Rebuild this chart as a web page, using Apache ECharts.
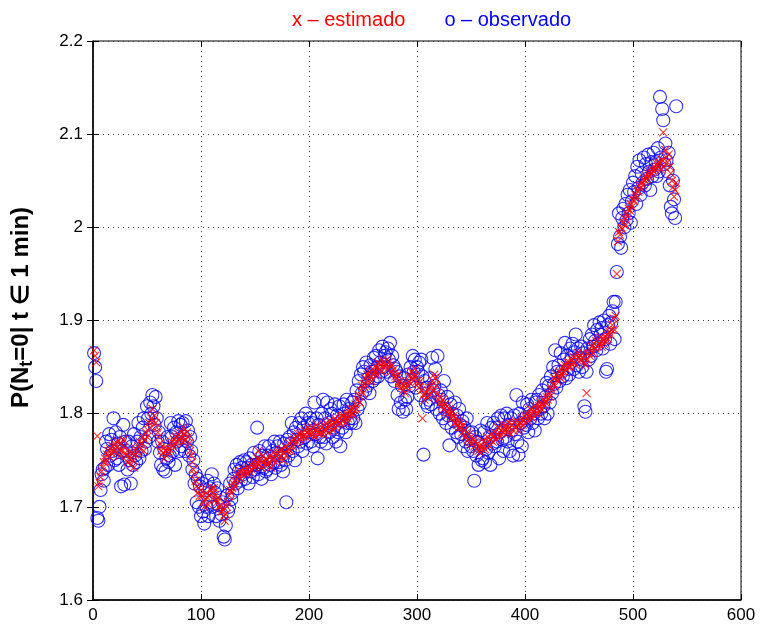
<!DOCTYPE html>
<html>
<head>
<meta charset="utf-8">
<script src="https://cdn.jsdelivr.net/npm/echarts@6/dist/echarts.min.js"></script>
<style>
  html, body { margin: 0; padding: 0; background: #fff; }
  #chart { width: 767px; height: 626px; }
</style>
</head>
<body>
<div id="chart"></div>
<script>
// sample index t = 1..540 (one point per minute)
const estimado = [
  1.868,1.862,1.855,1.776,1.722,1.726,1.732,1.738,1.742,1.748,
  1.752,1.748,1.756,1.760,1.754,1.762,1.758,1.765,1.760,1.768,
  1.765,1.758,1.770,1.762,1.755,1.768,1.760,1.772,1.764,1.758,
  1.755,1.748,1.752,1.760,1.745,1.758,1.750,1.742,1.756,1.762,
  1.758,1.765,1.770,1.762,1.768,1.775,1.760,1.772,1.780,1.775,
  1.782,1.790,1.785,1.795,1.805,1.792,1.798,1.790,1.785,1.780,
  1.775,1.768,1.760,1.765,1.758,1.752,1.760,1.755,1.762,1.758,
  1.762,1.768,1.770,1.765,1.772,1.768,1.775,1.770,1.778,1.772,
  1.775,1.780,1.770,1.785,1.778,1.772,1.780,1.775,1.768,1.760,
  1.755,1.748,1.740,1.735,1.728,1.722,1.715,1.720,1.712,1.718,
  1.712,1.705,1.700,1.708,1.715,1.710,1.702,1.712,1.718,1.720,
  1.715,1.720,1.712,1.708,1.705,1.710,1.700,1.702,1.695,1.698,
  1.690,1.685,1.692,1.700,1.705,1.712,1.718,1.715,1.720,1.725,
  1.728,1.722,1.730,1.735,1.732,1.738,1.730,1.735,1.740,1.736,
  1.738,1.740,1.735,1.742,1.738,1.745,1.740,1.748,1.742,1.745,
  1.748,1.752,1.760,1.745,1.750,1.742,1.755,1.748,1.745,1.752,
  1.750,1.745,1.748,1.755,1.742,1.750,1.758,1.752,1.748,1.755,
  1.758,1.752,1.760,1.755,1.762,1.750,1.758,1.765,1.755,1.760,
  1.762,1.768,1.760,1.770,1.765,1.772,1.768,1.775,1.770,1.778,
  1.772,1.778,1.775,1.780,1.776,1.782,1.775,1.780,1.785,1.778,
  1.782,1.778,1.785,1.780,1.775,1.782,1.788,1.780,1.785,1.778,
  1.780,1.785,1.778,1.788,1.782,1.790,1.785,1.780,1.792,1.786,
  1.788,1.782,1.790,1.795,1.785,1.792,1.788,1.795,1.790,1.798,
  1.792,1.798,1.795,1.790,1.800,1.795,1.802,1.798,1.805,1.800,
  1.805,1.798,1.810,1.805,1.815,1.820,1.812,1.825,1.830,1.822,
  1.832,1.838,1.830,1.842,1.835,1.845,1.840,1.835,1.848,1.842,
  1.845,1.850,1.842,1.855,1.848,1.852,1.845,1.858,1.850,1.855,
  1.852,1.858,1.848,1.855,1.850,1.845,1.852,1.842,1.848,1.840,
  1.838,1.842,1.832,1.835,1.828,1.832,1.825,1.830,1.822,1.828,
  1.830,1.835,1.840,1.832,1.845,1.838,1.842,1.848,1.840,1.835,
  1.832,1.828,1.835,1.825,1.795,1.820,1.815,1.822,1.818,1.825,
  1.828,1.820,1.830,1.835,1.825,1.842,1.838,1.830,1.822,1.815,
  1.818,1.812,1.808,1.815,1.805,1.810,1.802,1.808,1.800,1.805,
  1.800,1.795,1.802,1.798,1.790,1.795,1.788,1.792,1.785,1.790,
  1.785,1.780,1.788,1.782,1.775,1.780,1.772,1.778,1.770,1.775,
  1.768,1.772,1.765,1.770,1.762,1.768,1.760,1.765,1.758,1.762,
  1.765,1.770,1.762,1.768,1.775,1.770,1.765,1.772,1.778,1.770,
  1.775,1.780,1.772,1.778,1.785,1.780,1.775,1.782,1.788,1.780,
  1.782,1.788,1.785,1.780,1.790,1.785,1.778,1.788,1.782,1.790,
  1.785,1.792,1.788,1.782,1.790,1.785,1.795,1.788,1.792,1.798,
  1.795,1.800,1.792,1.798,1.805,1.800,1.795,1.802,1.808,1.800,
  1.805,1.800,1.808,1.812,1.805,1.810,1.815,1.808,1.812,1.818,
  1.815,1.822,1.818,1.828,1.825,1.832,1.838,1.830,1.842,1.835,
  1.840,1.845,1.838,1.842,1.850,1.845,1.852,1.848,1.855,1.850,
  1.855,1.850,1.858,1.862,1.855,1.860,1.852,1.858,1.865,1.860,
  1.862,1.858,1.865,1.860,1.855,1.852,1.822,1.858,1.865,1.862,
  1.868,1.872,1.865,1.875,1.870,1.878,1.872,1.880,1.875,1.882,
  1.872,1.880,1.875,1.882,1.878,1.885,1.880,1.888,1.885,1.890,
  1.895,1.902,1.890,1.905,1.950,1.985,1.995,1.992,2.000,1.998,
  2.005,2.010,2.002,2.015,2.012,2.020,2.018,2.025,2.022,2.030,
  2.028,2.035,2.032,2.040,2.038,2.045,2.042,2.048,2.045,2.052,
  2.050,2.055,2.052,2.058,2.055,2.060,2.058,2.062,2.060,2.065,
  2.062,2.068,2.065,2.070,2.068,2.062,2.072,2.102,2.065,2.083,
  2.075,2.070,2.078,2.065,2.058,2.050,2.043,2.033,2.040,2.048
];
const observado = [
  1.865,1.850,1.835,1.688,1.685,1.700,1.718,1.735,1.740,1.728,
  1.742,1.770,1.762,1.745,1.778,1.755,1.772,1.760,1.795,1.750,
  1.780,1.752,1.768,1.745,1.775,1.722,1.760,1.788,1.724,1.770,
  1.760,1.740,1.770,1.750,1.725,1.765,1.745,1.778,1.755,1.748,
  1.770,1.790,1.752,1.775,1.760,1.785,1.795,1.762,1.770,1.808,
  1.795,1.775,1.812,1.800,1.820,1.808,1.788,1.818,1.795,1.770,
  1.780,1.758,1.745,1.770,1.740,1.762,1.738,1.752,1.775,1.748,
  1.755,1.790,1.775,1.760,1.785,1.745,1.780,1.770,1.792,1.760,
  1.788,1.765,1.790,1.775,1.760,1.792,1.770,1.782,1.755,1.775,
  1.760,1.740,1.750,1.725,1.735,1.705,1.730,1.700,1.722,1.690,
  1.725,1.695,1.682,1.718,1.700,1.728,1.690,1.720,1.705,1.735,
  1.700,1.725,1.715,1.690,1.720,1.702,1.685,1.710,1.692,1.705,
  1.668,1.665,1.680,1.712,1.695,1.700,1.725,1.708,1.715,1.730,
  1.740,1.725,1.745,1.720,1.738,1.748,1.728,1.742,1.735,1.750,
  1.730,1.748,1.742,1.725,1.752,1.738,1.745,1.732,1.758,1.740,
  1.745,1.785,1.735,1.760,1.748,1.730,1.755,1.742,1.765,1.738,
  1.740,1.755,1.765,1.745,1.735,1.760,1.748,1.770,1.742,1.758,
  1.765,1.748,1.770,1.745,1.755,1.738,1.768,1.750,1.705,1.772,
  1.755,1.775,1.768,1.790,1.760,1.780,1.750,1.785,1.772,1.765,
  1.790,1.770,1.795,1.760,1.785,1.775,1.800,1.768,1.790,1.780,
  1.795,1.770,1.790,1.765,1.812,1.778,1.795,1.752,1.788,1.775,
  1.770,1.800,1.815,1.775,1.795,1.768,1.812,1.790,1.780,1.805,
  1.800,1.775,1.785,1.810,1.770,1.798,1.780,1.808,1.765,1.792,
  1.785,1.810,1.800,1.780,1.815,1.790,1.805,1.795,1.790,1.812,
  1.795,1.815,1.790,1.825,1.805,1.835,1.810,1.842,1.822,1.850,
  1.845,1.825,1.855,1.830,1.838,1.822,1.852,1.845,1.835,1.860,
  1.838,1.862,1.850,1.840,1.868,1.855,1.845,1.872,1.850,1.862,
  1.866,1.845,1.870,1.858,1.876,1.840,1.862,1.852,1.835,1.848,
  1.845,1.820,1.805,1.840,1.812,1.830,1.802,1.838,1.815,1.805,
  1.818,1.842,1.830,1.850,1.835,1.862,1.845,1.858,1.828,1.850,
  1.845,1.855,1.820,1.858,1.840,1.756,1.835,1.812,1.828,1.808,
  1.815,1.838,1.810,1.860,1.825,1.830,1.848,1.805,1.862,1.820,
  1.800,1.825,1.815,1.795,1.835,1.805,1.790,1.818,1.798,1.766,
  1.810,1.785,1.800,1.792,1.812,1.780,1.798,1.775,1.805,1.788,
  1.778,1.792,1.765,1.785,1.770,1.795,1.760,1.780,1.772,1.765,
  1.780,1.760,1.728,1.775,1.755,1.770,1.745,1.765,1.782,1.750,
  1.752,1.780,1.748,1.762,1.790,1.758,1.775,1.745,1.785,1.768,
  1.790,1.765,1.785,1.770,1.795,1.752,1.780,1.798,1.772,1.760,
  1.795,1.775,1.800,1.770,1.788,1.760,1.795,1.782,1.755,1.798,
  1.778,1.820,1.770,1.756,1.800,1.790,1.765,1.812,1.785,1.795,
  1.788,1.810,1.780,1.805,1.795,1.815,1.790,1.800,1.782,1.812,
  1.815,1.795,1.820,1.805,1.800,1.825,1.808,1.795,1.818,1.833,
  1.800,1.830,1.812,1.840,1.822,1.850,1.832,1.868,1.828,1.845,
  1.852,1.835,1.865,1.845,1.840,1.858,1.876,1.838,1.862,1.848,
  1.842,1.870,1.860,1.875,1.848,1.866,1.885,1.852,1.870,1.845,
  1.860,1.872,1.850,1.865,1.808,1.802,1.845,1.870,1.858,1.880,
  1.862,1.885,1.872,1.895,1.878,1.868,1.890,1.875,1.898,1.885,
  1.892,1.870,1.900,1.880,1.845,1.848,1.895,1.905,1.875,1.898,
  1.910,1.920,1.880,1.920,1.952,1.982,2.015,1.990,1.978,2.010,
  2.020,2.000,2.025,2.008,2.035,2.015,2.040,2.005,2.028,2.048,
  2.038,2.055,2.025,2.065,2.042,2.072,2.035,2.058,2.048,2.075,
  2.045,2.068,2.052,2.078,2.060,2.040,2.070,2.055,2.080,2.062,
  2.070,2.055,2.085,2.060,2.140,2.075,2.127,2.115,2.068,2.090,
  2.072,2.060,2.080,2.045,2.022,2.015,2.050,2.030,2.010,2.130
];
const xTicks = [0, 100, 200, 300, 400, 500, 600];
const yTicks = [1.6, 1.7, 1.8, 1.9, 2.0, 2.1, 2.2];

const toPoints = arr => arr.map((v, i) => [i + 1, v]);

const FONT = '"Liberation Sans", Arial, Helvetica, sans-serif';
const gridLine = { show: true, lineStyle: { color: '#444', type: [1, 4], width: 1 } };

const chart = echarts.init(document.getElementById('chart'));
chart.setOption({
  animation: false,
  textStyle: { fontFamily: FONT },
  grid: { left: 93, right: 26, top: 41, bottom: 26, show: true, borderColor: '#000', borderWidth: 1 },
  legend: {
    top: 5, left: 282, itemGap: 34, itemWidth: 0, itemHeight: 0, icon: 'none',
    data: [
      { name: 'estimado', textStyle: { color: '#ff0000' } },
      { name: 'observado', textStyle: { color: '#0000ff' } }
    ],
    formatter: n => (n === 'estimado' ? 'x' : 'o') + ' \u2013 ' + n,
    textStyle: { fontSize: 20, fontFamily: FONT }
  },
  xAxis: [{
    type: 'value', min: xTicks[0], max: xTicks[xTicks.length - 1], interval: 100,
    axisLine: { show: true, lineStyle: { color: '#000', width: 1.5 } },
    axisTick: { inside: true, length: 6, lineStyle: { color: '#000' } },
    axisLabel: { color: '#000', fontSize: 17, margin: 7 },
    splitLine: gridLine
  }, {
    type: 'value', position: 'top', min: xTicks[0], max: xTicks[xTicks.length - 1], interval: 100,
    axisLine: { show: false }, axisLabel: { show: false }, splitLine: { show: false },
    axisTick: { inside: true, length: 6, lineStyle: { color: '#000' } }
  }],
  yAxis: [{
    type: 'value', min: yTicks[0], max: yTicks[yTicks.length - 1], interval: 0.1,
    axisLine: { show: true, lineStyle: { color: '#000', width: 1.5 } },
    axisTick: { inside: true, length: 6, lineStyle: { color: '#000' } },
    axisLabel: { color: '#000', fontSize: 17, margin: 10, formatter: v => String(+v.toFixed(1)) },
    splitLine: gridLine,
    name: 'P(N{sub|t}=0| t \u2208 1 min)',
    nameLocation: 'middle', nameRotate: 90, nameGap: 57,
    nameTextStyle: {
      color: '#000', fontSize: 24, fontWeight: 'bold', fontFamily: FONT,
      padding: [0, 0, 0, 26],
      rich: { sub: { fontSize: 18, fontWeight: 'bold', fontFamily: FONT, padding: [12, 0, 0, 0] } }
    }
  }, {
    type: 'value', position: 'right', min: yTicks[0], max: yTicks[yTicks.length - 1], interval: 0.1,
    axisLine: { show: false }, axisLabel: { show: false }, splitLine: { show: false },
    axisTick: { inside: true, length: 6, lineStyle: { color: '#000' } }
  }],
  series: [
    {
      name: 'observado', type: 'scatter', data: toPoints(observado),
      symbol: 'circle', symbolSize: 13,
      itemStyle: { color: 'rgba(0,0,0,0)', borderColor: '#0000ff', borderWidth: 1.1 }
    },
    {
      name: 'estimado', type: 'scatter', data: toPoints(estimado),
      symbol: 'path://M0,0L10,10M10,0L0,10', symbolSize: 8,
      itemStyle: { color: 'rgba(0,0,0,0)', borderColor: '#ff0000', borderWidth: 1.1 }
    }
  ]
});
</script>
</body>
</html>
